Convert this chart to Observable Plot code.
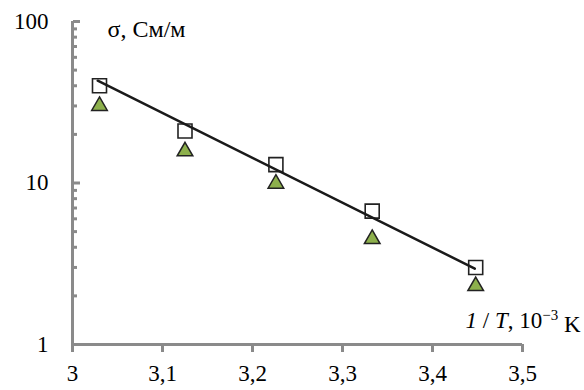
<!DOCTYPE html>
<html><head><meta charset="utf-8">
<script src="https://cdn.jsdelivr.net/npm/d3@7"></script>
<script src="https://cdn.jsdelivr.net/npm/@observablehq/plot@0.6"></script>
<style>body{margin:0;background:#fff} svg text{font-family:"Liberation Serif","Tinos","Times New Roman","DejaVu Serif",serif !important;}</style>
</head><body><div id="chart"></div>
<script>
// Data
const invT = [3.030, 3.125, 3.226, 3.333, 3.448];          // 1/T, 10^-3 K
const sigmaSquares = [40, 21, 13, 6.7, 3.0];                // σ, См/м (squares)
const sigmaTriangles = [30, 15.7, 9.9, 4.5, 2.3];           // σ, См/м (triangles)
const trendX = [3.028, 3.447];
const trendY = [43, 2.95];
const xTicks = [3, 3.1, 3.2, 3.3, 3.4, 3.5];
const xTickLabels = ["3", "3,1", "3,2", "3,3", "3,4", "3,5"];
const yMajor = [1, 10, 100];
const yMajorLabels = ["1", "10", "100"];
const yMinor = [2, 3, 4, 5, 6, 7, 8, 9, 20, 30, 40, 50, 60, 70, 80, 90];
const yLabel = "σ, См/м";
const xLabel = "1 / T, 10⁻³ K";

const squares = invT.map((x, i) => ({x, y: sigmaSquares[i]}));
const triangles = invT.map((x, i) => ({x, y: sigmaTriangles[i]}));
const trend = trendX.map((x, i) => ({x, y: trendY[i]}));

const gray = "#8a8a8a";
const chart = Plot.plot({
  width: 584, height: 390,
  marginLeft: 72, marginRight: 62, marginTop: 21, marginBottom: 46,
  style: {background: "#fff", color: "#000"},
  x: {domain: [3, 3.5]},
  y: {type: "log", domain: [1, 100]},
  marks: [
    Plot.ruleX([3], {stroke: gray, strokeWidth: 3}),
    Plot.ruleY([1], {stroke: gray, strokeWidth: 3}),
    Plot.axisY(yMinor, {tickSize: 4, dx: 5, stroke: gray, strokeWidth: 3, fill: "none", label: null}),
    Plot.axisY(yMajor, {tickSize: 7, dx: 8, stroke: gray, strokeWidth: 3, fill: "none", label: null}),
    Plot.axisY(yMajor, {tickSize: 0, tickPadding: 24, fill: "#000", fontSize: 23, label: null,
      tickFormat: d => yMajorLabels[yMajor.indexOf(d)]}),
    Plot.axisX(xTicks, {tickSize: 8, tickPadding: 12, stroke: gray, strokeWidth: 3, fill: "#000", fontSize: 23, label: null,
      tickFormat: d => xTickLabels[xTicks.indexOf(d)]}),
    Plot.dot(squares, {x: "x", y: "y", symbol: "square", r: 7.9, fill: "white", stroke: "#222", strokeWidth: 1.6}),
    Plot.dot(triangles, {x: "x", y: "y", symbol: "triangle", r: 5.8, fill: "#8db04c", stroke: "#222", strokeWidth: 1.5}),
    Plot.line(trend, {x: "x", y: "y", stroke: "#1a1a1a", strokeWidth: 2.5}),
    Plot.text([yLabel], {frameAnchor: "top-left", dx: 35, dy: 8, textAnchor: "start", lineAnchor: "middle", fontSize: 24, fill: "#000"}),
    Plot.text([xLabel], {frameAnchor: "bottom-right", dx: 58, dy: -24, textAnchor: "end", lineAnchor: "middle", fontSize: 23, fill: "#000"})
  ]
});
document.getElementById("chart").appendChild(chart);
chart.style.fontFamily = '"Liberation Serif", serif';

// Style parts of the x label (italic 1 and T, superscript exponent)
d3.select(chart).selectAll("text").style("font-family", '"Liberation Serif", "DejaVu Serif", serif').each(function() {
  if (this.textContent === xLabel) {
    const t = d3.select(this);
    t.text(null);
    t.append("tspan").attr("font-style", "italic").text("1");
    t.append("tspan").text(" / ");
    t.append("tspan").attr("font-style", "italic").text("T");
    t.append("tspan").text(", 10");
    t.append("tspan").attr("font-size", "65%").attr("dy", "-0.5em").text("−3");
    t.append("tspan").attr("dy", "0.5em").text(" K");
  }
});
</script>
</body></html>
